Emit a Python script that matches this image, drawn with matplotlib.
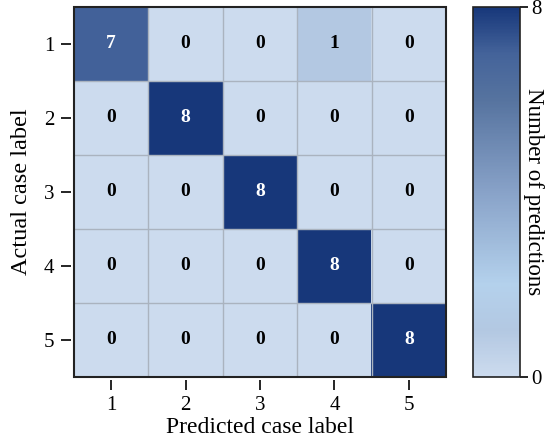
import numpy as np
import matplotlib.pyplot as plt
from matplotlib.colors import LinearSegmentedColormap
from matplotlib.patches import Rectangle

labels = ["1", "2", "3", "4", "5"]
counts = np.array([
    [7, 0, 0, 1, 0],
    [0, 8, 0, 0, 0],
    [0, 0, 8, 0, 0],
    [0, 0, 0, 8, 0],
    [0, 0, 0, 0, 8],
])

plt.rcParams["font.family"] = ["Liberation Serif", "DejaVu Serif"]

cmap = LinearSegmentedColormap.from_list(
    "blues_custom",
    [(0.0, "#ccdbee"), (0.125, "#b3c8e2"), (0.25, "#b4d1ec"),
     (0.5, "#88a2c8"), (0.75, "#56739f"), (0.875, "#44639a"), (1.0, "#17377a")],
)

fig = plt.figure(figsize=(5.48, 4.41), dpi=100)
ax = fig.add_axes([74 / 548, 1 - 377 / 441, 372 / 548, 370 / 441])
cax = fig.add_axes([473 / 548, 1 - 377 / 441, 47 / 548, 370 / 441])

im = ax.imshow(counts, cmap=cmap, vmin=0, vmax=8, aspect="auto")

n = len(labels)
for k in range(1, n):
    ax.axvline(k - 0.5, color="#aab3bf", lw=1)
    ax.axhline(k - 0.5, color="#aab3bf", lw=1)

for i in range(n):
    for j in range(n):
        v = counts[i, j]
        ax.text(j, i, str(v), ha="center", va="center", fontsize=14,
                fontweight="bold", color="white" if v > 4 else "black")

ax.add_patch(Rectangle((-0.5, -0.5), n, n, fill=False, ec="#222222", lw=1.5,
                       zorder=5, clip_on=False))

for side in ["top", "right"]:
    ax.spines[side].set_visible(False)
for side in ["bottom", "left"]:
    ax.spines[side].set_position(("outward", 2))
    ax.spines[side].set_visible(False)
ax.set_xticks(range(n))
ax.set_yticks(range(n))
ax.set_xticklabels(labels)
ax.set_yticklabels(labels)
ax.tick_params(direction="out", length=7, width=1.2, pad=5, labelsize=15)
ax.set_xlabel("Predicted case label", fontsize=17, labelpad=1)
ax.set_ylabel("Actual case label", fontsize=17.5, labelpad=9)

cb = fig.colorbar(im, cax=cax, ticks=[0, 8])
cb.outline.set_linewidth(1.2)
cb.outline.set_edgecolor("#222222")
cax.tick_params(direction="out", length=6, width=1.2, labelsize=15, pad=2)
cb.set_label("Number of predictions", rotation=270, fontsize=16.5, labelpad=2)

fig.savefig("out.png", dpi=100)
